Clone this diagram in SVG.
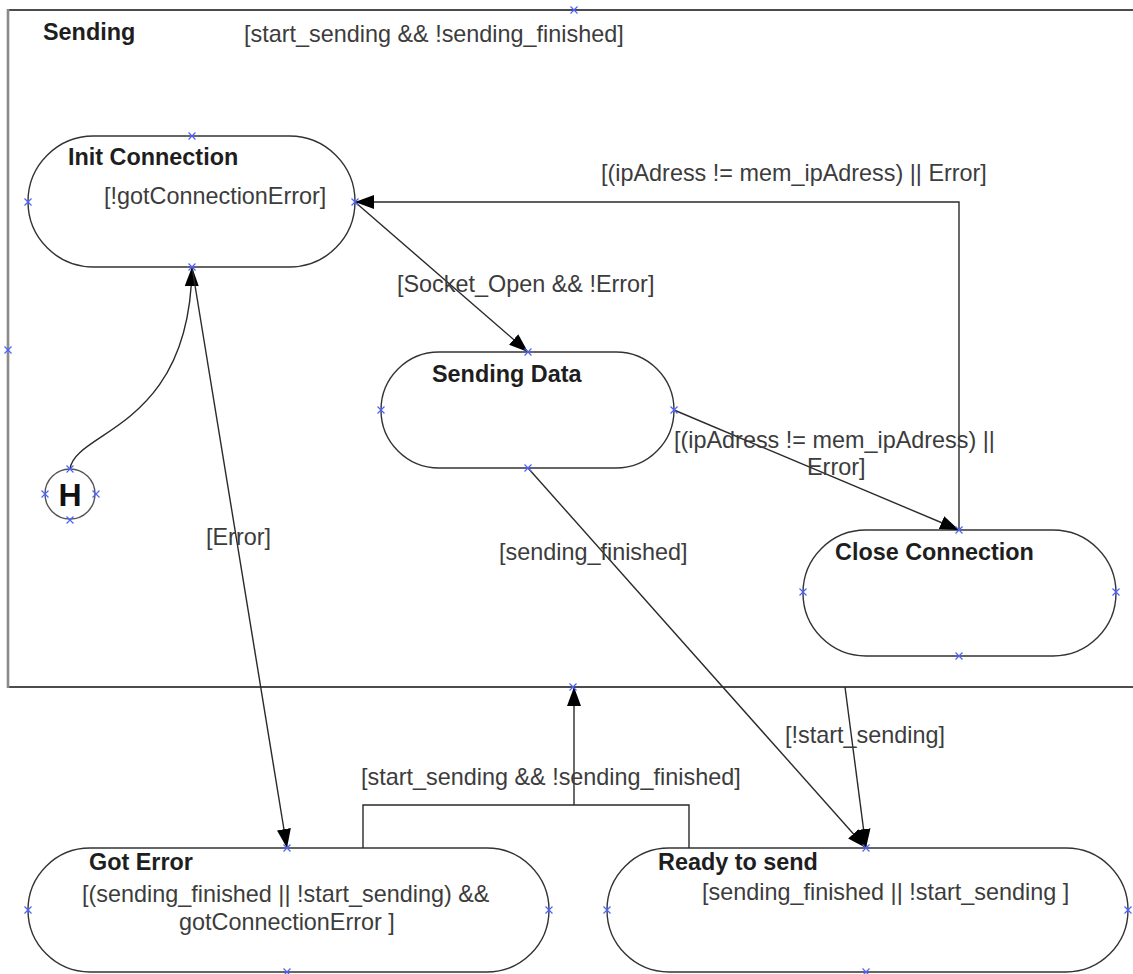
<svg xmlns="http://www.w3.org/2000/svg" width="1133" height="974" viewBox="0 0 1133 974">
  <style>
    .state { fill: #fff; stroke: #333; stroke-width: 1.4; }
    .title { font-family: "Liberation Sans", Arial, sans-serif; font-size: 23.4px; font-weight: bold; fill: #1e1e1e; }
    .lbl { font-family: "Liberation Sans", Arial, sans-serif; font-size: 23.4px; fill: #3c3c3c; }
    .conn { fill: none; stroke: #2a2a2a; stroke-width: 1.4; }
    .pin { stroke: #4a63ff; stroke-width: 1.2; fill: none; }
  </style>
  <defs>
    <marker id="arrow" markerUnits="userSpaceOnUse" markerWidth="20" markerHeight="14" refX="19" refY="7" orient="auto">
      <path d="M0,0 L19,7 L0,14 z" fill="#000"/>
    </marker>
    <!-- connection point marker -->
    <path id="x" d="M-3.5,-3.5 L3.5,3.5 M-3.5,3.5 L3.5,-3.5"/>
  </defs>

  <rect width="1133" height="974" fill="#fff"/>

  <!-- Composite state: Sending -->
  <g id="sending">
    <line x1="8" y1="10" x2="1133" y2="10" stroke="#111" stroke-width="1.6"/>
    <line x1="8" y1="687" x2="1133" y2="687" stroke="#111" stroke-width="1.6"/>
    <line x1="8" y1="9" x2="8" y2="688" stroke="#8a8a8a" stroke-width="2.6"/>
    <text class="title" x="43" y="40">Sending</text>
  </g>

  <g id="init-connection">
    <rect class="state" x="28" y="136" width="327" height="131" rx="65.5"/>
    <text class="title" x="68" y="165">Init Connection</text>
    <text class="lbl" x="104" y="204">[!gotConnectionError]</text>
  </g>

  <g id="history">
    <circle cx="70" cy="494" r="25" fill="#fff" stroke="#555" stroke-width="1.4"/>
    <text x="70" y="506" text-anchor="middle" font-family="Liberation Sans, Arial, sans-serif" font-size="32" font-weight="bold" fill="#111">H</text>
  </g>

  <g id="sending-data">
    <rect class="state" x="381" y="352" width="293" height="116" rx="58"/>
    <text class="title" x="432" y="382">Sending Data</text>
  </g>

  <g id="close-connection">
    <rect class="state" x="803" y="530" width="313" height="126" rx="63"/>
    <text class="title" x="835" y="560">Close Connection</text>
  </g>

  <g id="got-error">
    <rect class="state" x="28" y="848" width="521" height="124" rx="62"/>
    <text class="title" x="89" y="870">Got Error</text>
    <text class="lbl" x="82" y="902">[(sending_finished || !start_sending) &amp;&amp;</text>
    <text class="lbl" x="179" y="930">gotConnectionError ]</text>
  </g>

  <g id="ready-to-send">
    <rect class="state" x="607" y="848" width="521" height="124" rx="62"/>
    <text class="title" x="658" y="870">Ready to send</text>
    <text class="lbl" x="702" y="900">[sending_finished || !start_sending ]</text>
  </g>

  <!-- Transitions -->
  <g id="connectors">
    <path class="conn" d="M70,469 C75,430 190,430 192,267" marker-end="url(#arrow)"/>
    <line class="conn" x1="192" y1="267" x2="287" y2="848" marker-end="url(#arrow)"/>
    <line class="conn" x1="355" y1="202" x2="528" y2="352" marker-end="url(#arrow)"/>
    <line class="conn" x1="674" y1="410" x2="959" y2="530" marker-end="url(#arrow)"/>
    <path class="conn" d="M959,530 V202 H355" stroke-width="1.6" marker-end="url(#arrow)"/>
    <line class="conn" x1="528" y1="468" x2="866" y2="848" marker-end="url(#arrow)"/>
    <line class="conn" x1="845" y1="687" x2="866" y2="848" stroke-width="1.6" marker-end="url(#arrow)"/>
    <path class="conn" d="M363,848 V805 H689 V848" stroke-width="2"/>
    <line class="conn" x1="574" y1="805" x2="574" y2="687" stroke-width="2.2" marker-end="url(#arrow)"/>

    <text class="lbl" x="244" y="42">[start_sending &amp;&amp; !sending_finished]</text>
    <text class="lbl" x="601" y="181">[(ipAdress != mem_ipAdress) || Error]</text>
    <text class="lbl" x="397" y="292">[Socket_Open &amp;&amp; !Error]</text>
    <text class="lbl" x="674" y="448">[(ipAdress != mem_ipAdress) ||</text>
    <text class="lbl" x="807" y="475">Error]</text>
    <text class="lbl" x="499" y="560">[sending_finished]</text>
    <text class="lbl" x="206" y="545">[Error]</text>
    <text class="lbl" x="785" y="743">[!start_sending]</text>
    <text class="lbl" x="361" y="785">[start_sending &amp;&amp; !sending_finished]</text>
  </g>

  <!-- Connection points -->
  <g id="pins" class="pin">
    <use href="#x" x="574" y="10"/>
    <use href="#x" x="8" y="350"/>
    <use href="#x" x="573" y="687"/>
    <use href="#x" x="192" y="136"/>
    <use href="#x" x="28" y="202"/>
    <use href="#x" x="355" y="202"/>
    <use href="#x" x="192" y="267"/>
    <use href="#x" x="70" y="469"/>
    <use href="#x" x="45" y="494"/>
    <use href="#x" x="96" y="494"/>
    <use href="#x" x="70" y="520"/>
    <use href="#x" x="528" y="352"/>
    <use href="#x" x="381" y="410"/>
    <use href="#x" x="674" y="410"/>
    <use href="#x" x="528" y="468"/>
    <use href="#x" x="959" y="530"/>
    <use href="#x" x="803" y="592"/>
    <use href="#x" x="1116" y="592"/>
    <use href="#x" x="959" y="656"/>
    <use href="#x" x="287" y="848"/>
    <use href="#x" x="28" y="910"/>
    <use href="#x" x="549" y="910"/>
    <use href="#x" x="287" y="972"/>
    <use href="#x" x="866" y="848"/>
    <use href="#x" x="607" y="910"/>
    <use href="#x" x="1128" y="910"/>
    <use href="#x" x="866" y="972"/>
  </g>
</svg>
